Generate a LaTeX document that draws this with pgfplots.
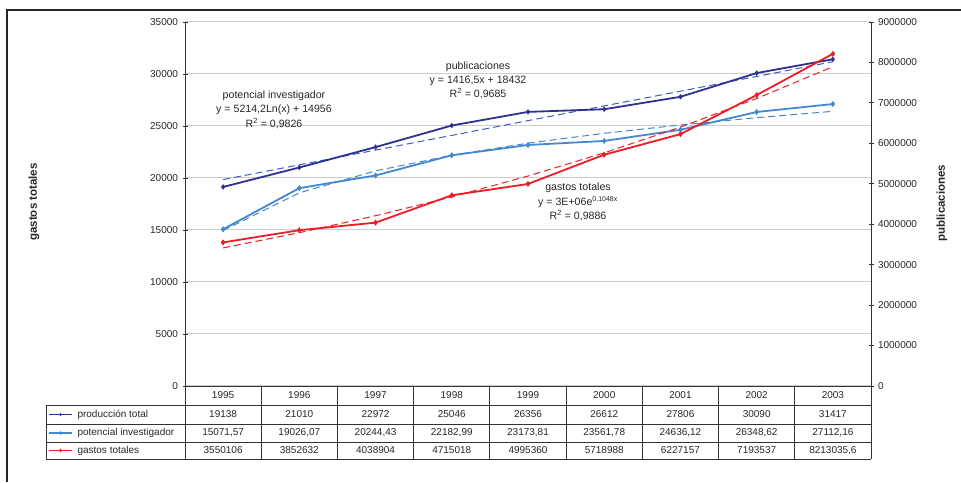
\documentclass[border=0pt]{standalone}
\usepackage{fontspec}
\setmainfont{Liberation Sans}
\usepackage{pgfplots}
\pgfplotsset{compat=1.18}
\definecolor{navy}{HTML}{2E3192}
\definecolor{lblue}{HTML}{4388D0}
\definecolor{dred}{HTML}{EE1C25}
\definecolor{tblue}{HTML}{3A5DC0}
\definecolor{gridg}{HTML}{CCCCCC}
\begin{document}
\begin{tikzpicture}[x=1pt,y=1pt]
\path[use as bounding box] (0,0) rectangle (961,482);
\draw[line width=1.3pt, black!85] (7,0) -- (7,472) -- (961,472);
\pgfplotsset{base/.style={at={(185pt,96pt)}, anchor=south west, scale only axis,
  width=686pt, height=364pt, xmin=-0.5, xmax=8.5, axis x line=none,
  tick align=center, major tick length=5pt, clip=false,
  tick style={black!80, line width=0.8pt}, axis line style={black!80, line width=0.9pt},
  yticklabel style={font=\fontsize{10}{12}\selectfont, color=black!85},
  /pgf/number format/assume math mode=true, /pgf/number format/1000 sep={},
  /pgf/number format/fixed, scaled y ticks=false},
  trend/.style={dash pattern=on 7pt off 4pt, line width=1pt}}
\begin{axis}[base, ymin=0, ymax=35000, axis y line*=left,
  ytick={0,5000,10000,15000,20000,25000,30000,35000},
  ymajorgrids, grid style={gridg, line width=1pt},
  yticklabel style={xshift=-1pt}]
% trend lines
\addplot[tblue, trend] coordinates {(0,19848.5)(1,21265)(2,22681.5)(3,24098)(4,25514.5)(5,26931)(6,28347.5)(7,29764)(8,31180.5)};
\addplot[lblue, trend] coordinates {(0,14956)(1,18570.2)(2,20684.4)(3,22184.4)(4,23348)(5,24298.5)(6,25102.3)(7,25798.6)(8,26412.7)};
% series
\addplot[navy, line width=1.8pt, mark=diamond*, mark size=1.3pt] coordinates {(0,19138)(1,21010)(2,22972)(3,25046)(4,26356)(5,26612)(6,27806)(7,30090)(8,31417)};
\addplot[lblue, line width=1.8pt, mark=diamond*, mark size=1.6pt] coordinates {(0,15071.57)(1,19026.07)(2,20244.43)(3,22182.99)(4,23173.81)(5,23561.78)(6,24636.12)(7,26348.62)(8,27112.16)};
\end{axis}
\begin{axis}[base, ymin=0, ymax=9000000, axis y line*=right,
  ytick={0,1000000,2000000,3000000,4000000,5000000,6000000,7000000,8000000,9000000},
  yticklabel style={xshift=1pt}]
\addplot[dred, trend] coordinates {(0,3413700)(1,3790800)(2,4209600)(3,4674800)(4,5191500)(5,5765000)(6,6401700)(7,7109000)(8,7894600)};
\addplot[dred, line width=1.8pt, mark=diamond*, mark size=1.6pt] coordinates {(0,3550106)(1,3852632)(2,4038904)(3,4715018)(4,4995360)(5,5718988)(6,6227157)(7,7193537)(8,8213035.6)};
\end{axis}
% annotations
\begin{scope}[every node/.style={font=\fontsize{10.6}{13}\selectfont, color=black!85, align=center}]
\node at (478,415) {publicaciones};
\node at (478,401) {y = 1416,5x + 18432};
\node at (478,388) {R\textsuperscript{2} = 0,9685};
\node at (274,386) {potencial investigador};
\node at (274,372) {y = 5214,2Ln(x) + 14956};
\node at (274,358) {R\textsuperscript{2} = 0,9826};
\node at (578,294) {gastos totales};
\node at (578,280) {y = 3E+06e\textsuperscript{\fontsize{7}{8}\selectfont 0,1048x}};
\node at (578,266) {R\textsuperscript{2} = 0,9886};
\end{scope}
% axis titles
\node[rotate=90, font=\bfseries\fontsize{11.5}{13}\selectfont, color=black!85] at (34,280) {gastos totales};
\node[rotate=90, font=\bfseries\fontsize{11.5}{13}\selectfont, color=black!85] at (942,279) {publicaciones};
% data table
\begin{scope}[line width=0.9pt, black!80]
\draw (185,96) -- (871,96);
\draw (46,77) -- (871,77);
\draw (46,58) -- (871,58);
\draw (46,40) -- (871,40);
\draw (46,23) -- (871,23);
\draw (46,77) -- (46,23);
\foreach \k in {0,...,9} {\draw ({185+76.222*\k},96) -- ({185+76.222*\k},23);}
\end{scope}
\begin{scope}[every node/.style={font=\fontsize{10}{12}\selectfont, color=black!85}]
\foreach \yr [count=\i from 0] in {1995,1996,1997,1998,1999,2000,2001,2002,2003}
  {\node at ({185+76.222*(\i+0.5)},86.5) {\yr};}
\foreach \v [count=\i from 0] in {19138,21010,22972,25046,26356,26612,27806,30090,31417}
  {\node at ({185+76.222*(\i+0.5)},67.5) {\v};}
\foreach \v [count=\i from 0] in {15071{,}57,19026{,}07,20244{,}43,22182{,}99,23173{,}81,23561{,}78,24636{,}12,26348{,}62,27112{,}16}
  {\node at ({185+76.222*(\i+0.5)},49) {\v};}
\foreach \v [count=\i from 0] in {3550106,3852632,4038904,4715018,4995360,5718988,6227157,7193537,8213035{,}6}
  {\node at ({185+76.222*(\i+0.5)},31.5) {\v};}
\node[anchor=west] at (74,67.5) {producción total};
\node[anchor=west] at (74,49) {potencial investigador};
\node[anchor=west] at (74,31.5) {gastos totales};
\end{scope}
\draw[navy, line width=1.7pt] (49,67.5) -- (72,67.5);
\draw[lblue, line width=1.7pt] (49,49) -- (72,49);
\draw[dred, line width=1.7pt] (49,31.5) -- (72,31.5);
\path plot[mark=diamond*, mark size=1.3pt, mark options={navy}] coordinates {(60.5,67.5)};
\path plot[mark=diamond*, mark size=1.6pt, mark options={lblue}] coordinates {(60.5,49)};
\path plot[mark=diamond*, mark size=1.6pt, mark options={dred}] coordinates {(60.5,31.5)};
\end{tikzpicture}
\end{document}
